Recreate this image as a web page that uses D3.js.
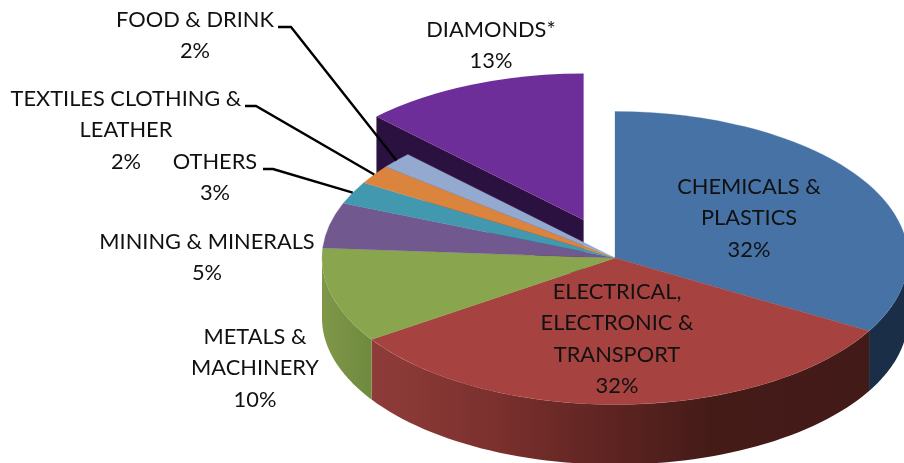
<!DOCTYPE html>
<html>
<head>
<meta charset="utf-8">
<title>exports pie</title>
<script src="https://cdnjs.cloudflare.com/ajax/libs/d3/7.8.5/d3.min.js"></script>
<style>
    html, body { margin: 0; padding: 0; background: #fff; overflow: hidden; }
    svg { display: block; filter: blur(0.4px); }
    text { font-family: Lato, "Open Sans", sans-serif; font-size: 21.8px; fill: #111; text-anchor: middle; }
</style>
</head>
<body>
<div id="vis_container"></div>
<script>
    // slice names as printed, with their line breaks
    var categories = [
        ["CHEMICALS &", "PLASTICS"],
        ["ELECTRICAL,", "ELECTRONIC &", "TRANSPORT"],
        ["METALS &", "MACHINERY"],
        ["MINING & MINERALS"],
        ["OTHERS"],
        ["TEXTILES CLOTHING &", "LEATHER"],
        ["FOOD & DRINK"],
        ["DIAMONDS*"]
    ];
    // percentages printed on the labels
    var printedPercent = [32, 32, 10, 5, 3, 2, 2, 13];
    // slice sizes as measured from the drawn angles (the 3D view does not match the print exactly)
    var sliceShare = [33.3, 32.3, 10.5, 5.0, 2.5, 2.1, 1.8, 12.5];

    var topColors = ["#4672a6", "#a64340", "#89a54e", "#71588f", "#4198af", "#db843d", "#93a9cf", "#6d2e9a"];
    var wallColors = ["#1a2e47", "url(#redWall)", "url(#greenWall)", "#3f3050", "#245766", "#7a4922", "#515e73", "#2b1140"];

    // label centre and first baseline
    var labelPos = [[749, 194], [617, 299], [255, 344], [207, 249], [215, 169], [126, 106], [195, 27], [491, 37]];
    // leader lines: label end of the line and elbow, only for the three small slices
    var leaders = { 4: [[263, 169], [273, 169]], 5: [[245, 106], [256, 106]], 6: [[278, 27], [291, 27]] };

    var width = 904, height = 463;
    var cx = 615, cy = 258, radius = 293, tilt = 0.5, depth = 60, lineGap = 31.3;
    var explodeIndex = 7, explode = 82;

    var svg = d3.select("#vis_container").append("svg")
        .attr("width", width)
        .attr("height", height);

    // walls are drawn inside the group moved to the pie centre, so x is relative to cx
    var defs = svg.append("defs");
    function wallGradient(id, x1, x2, stops) {
        var g = defs.append("linearGradient").attr("id", id)
            .attr("gradientUnits", "userSpaceOnUse")
            .attr("x1", x1 - cx).attr("x2", x2 - cx).attr("y1", 0).attr("y2", 0);
        stops.forEach(function(s) {
            g.append("stop").attr("offset", s[0]).attr("stop-color", s[1]);
        });
    }
    wallGradient("redWall", 371, 868, [[0, "#8f3c39"], [0.26, "#7a302d"], [0.48, "#5e2421"], [0.68, "#451b18"], [1, "#421a17"]]);
    wallGradient("greenWall", 322, 371, [[0, "#7f9748"], [1, "#6f8a3f"]]);

    var slices = d3.pie().sort(null).value(function(d) { return d; })(sliceShare);

    var arc = d3.arc().innerRadius(0).outerRadius(radius);

    function rim(angle) {
        return [radius * Math.sin(angle), -radius * tilt * Math.cos(angle)];
    }
    function sliceOffset(i) {
        if (i !== explodeIndex) return [0, 0];
        var mid = (slices[i].startAngle + slices[i].endAngle) / 2;
        return [explode * Math.sin(mid), -explode * tilt * Math.cos(mid)];
    }

    var line = d3.line();
    var chart = svg.append("g").attr("transform", "translate(" + cx + "," + cy + ")");

    // cut face of the exploded slice, the main pie covers its lower part
    var off = sliceOffset(explodeIndex);
    var cutEnd = rim(slices[explodeIndex].startAngle);
    chart.append("path")
        .attr("transform", "translate(" + off + ")")
        .attr("d", line([[0, 0], cutEnd, [cutEnd[0], cutEnd[1] + depth], [0, depth]]) + "Z")
        .attr("fill", wallColors[explodeIndex]);
    chart.append("path")
        .attr("transform", "translate(" + off + ") scale(1," + tilt + ")")
        .attr("d", arc(slices[explodeIndex]))
        .attr("fill", topColors[explodeIndex]);

    // outer walls of the main pie, front half only
    slices.forEach(function(s, i) {
        if (i === explodeIndex) return;
        var a0 = Math.max(s.startAngle, Math.PI / 2);
        var a1 = Math.min(s.endAngle, Math.PI * 1.5);
        if (a1 <= a0) return;
        var angles = d3.range(0, 61).map(function(k) { return a0 + (a1 - a0) * k / 60; });
        var upper = angles.map(rim);
        var lower = upper.map(function(p) { return [p[0], p[1] + depth]; }).reverse();
        chart.append("path")
            .attr("d", line(upper.concat(lower)) + "Z")
            .attr("fill", wallColors[i]);
    });

    // top faces
    chart.selectAll("path.top")
        .data(slices.filter(function(s) { return s.index !== explodeIndex; }))
        .enter().append("path")
        .attr("class", "top")
        .attr("transform", "scale(1," + tilt + ")")
        .attr("d", arc)
        .attr("fill", function(d) { return topColors[d.index]; })
        .attr("stroke", function(d) { return topColors[d.index]; })
        .attr("stroke-width", 0.4);

    // leader lines end on the rim at the middle of their slice
    Object.keys(leaders).forEach(function(key) {
        var i = +key;
        var mid = (slices[i].startAngle + slices[i].endAngle) / 2;
        var p = rim(mid);
        svg.append("path")
            .attr("d", line(leaders[i].concat([[p[0] + cx, p[1] + cy]])))
            .attr("fill", "none")
            .attr("stroke", "#000")
            .attr("stroke-width", 2.4);
    });

    // labels
    categories.forEach(function(lines, i) {
        var t = svg.append("text");
        lines.concat([printedPercent[i] + "%"]).forEach(function(s, k) {
            t.append("tspan")
                .attr("x", labelPos[i][0])
                .attr("y", labelPos[i][1] + k * lineGap)
                .text(s);
        });
    });
</script>
</body>
</html>
